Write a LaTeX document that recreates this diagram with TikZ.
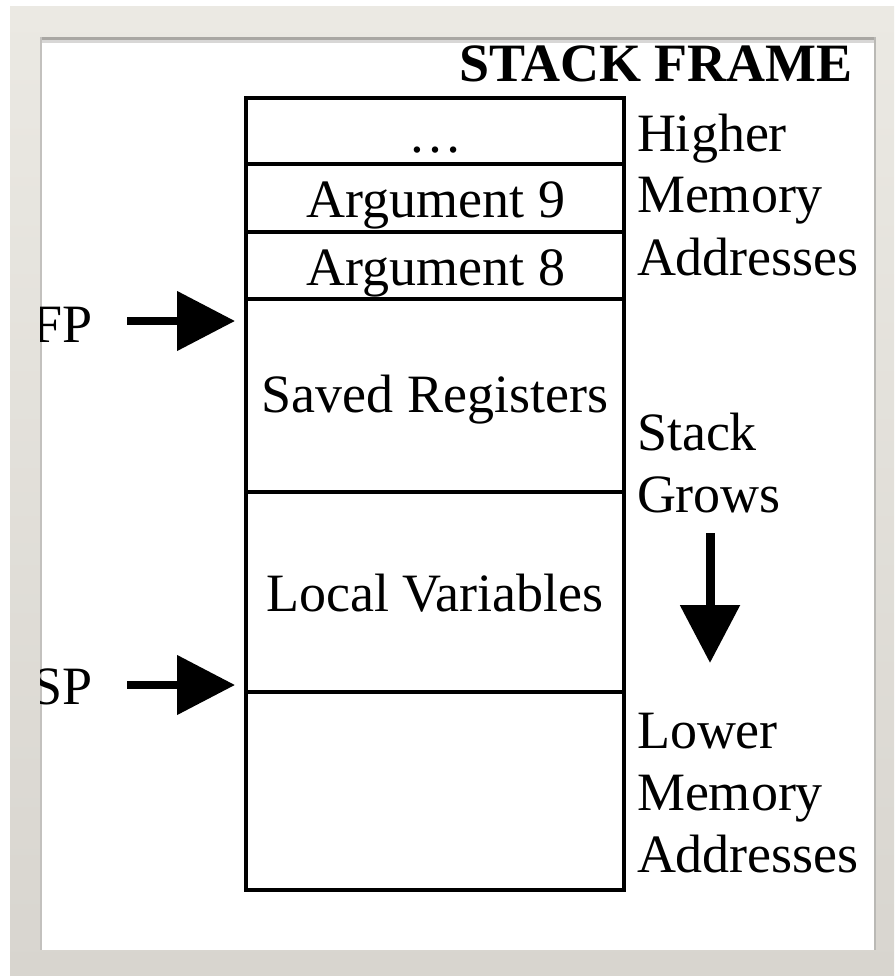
\documentclass[tikz,border=0pt]{standalone}
\usepackage{fontspec}
\setmainfont{Liberation Serif}
\usetikzlibrary{arrows.meta}
\definecolor{mattetop}{HTML}{EBE9E3}
\definecolor{mattebot}{HTML}{D8D5CF}
\definecolor{edgeshade}{HTML}{A9A7A3}
\begin{document}
\begin{tikzpicture}[x=1pt,y=-1pt,
  every node/.style={inner sep=0pt, outer sep=0pt},
  txt/.style={font=\fontsize{54}{62}\selectfont},
  cell/.style={draw=black, line width=3.5pt, minimum width=378pt, anchor=north west},
  ptr/.style={line width=8pt, -{Triangle[length=58pt,width=58pt]}},
]
% page and mat
\useasboundingbox (0,0) rectangle (894,976);
\fill[white] (0,0) rectangle (894,976);
\shade[top color=mattetop, bottom color=mattebot] (10,7) rectangle (894,976);
\fill[white] (40,37) rectangle (876,950);
% bevel shadow along the inner edges
\draw[edgeshade, line width=2.5pt] (40,38.5) -- (876,38.5);
\draw[edgeshade!45, line width=3pt] (40,42) -- (876,42);
\draw[edgeshade!70, line width=1.5pt] (41,37) -- (41,950);
\draw[edgeshade!80, line width=1.5pt] (875,37) -- (875,950);

\begin{scope}
\clip (40,37) rectangle (876,950);

% title
\node[txt, font=\fontsize{54}{62}\selectfont\bfseries, anchor=base east] (title) at (853,82) {STACK FRAME};

% stack cells
\node[cell, minimum height=66pt]  (more)   at (246,98)  {};
\node[cell, minimum height=68pt]  (arg9)   at (246,164) {};
\node[cell, minimum height=67pt]  (arg8)   at (246,232) {};
\node[cell, minimum height=193pt] (saved)  at (246,299) {};
\node[cell, minimum height=200pt] (locals) at (246,492) {};
\node[cell, minimum height=198pt] (free)   at (246,692) {};

% cell contents
\node[txt, anchor=base] (moretxt)   at (435,153) {…};
\node[txt, anchor=base] (arg9txt)   at (436,218) {Argument 9};
\node[txt, anchor=base] (arg8txt)   at (436,285) {Argument 8};
\node[txt, anchor=base] (savedtxt)  at (435,412) {Saved Registers};
\node[txt, anchor=base] (localstxt) at (435,611) {Local Variables};

% right-hand annotations
\node[txt, anchor=base west] (hi1) at (637,152) {Higher};
\node[txt, anchor=base west] (hi2) at (637,213) {Memory};
\node[txt, anchor=base west] (hi3) at (637,275) {Addresses};
\node[txt, anchor=base west] (gr1) at (637,450) {Stack};
\node[txt, anchor=base west] (gr2) at (637,512) {Grows};
\node[txt, anchor=base west] (lo1) at (637,748) {Lower};
\node[txt, anchor=base west] (lo2) at (637,810) {Memory};
\node[txt, anchor=base west] (lo3) at (637,872) {Addresses};

% growth direction
\coordinate (growtop) at (710,533);
\coordinate (growtip) at (710,663);
\draw[ptr, line width=9pt] (growtop) -- (growtip);

% frame and stack pointers
\node[txt, anchor=base east] (fp) at (93,342) {FP};
\node[txt, anchor=base east] (sp) at (93,704) {SP};
\coordinate (fpfrom) at (127,321);
\coordinate (fpto)   at (235,321);
\coordinate (spfrom) at (127,685);
\coordinate (spto)   at (235,685);
\draw[ptr] (fpfrom) -- (fpto);
\draw[ptr] (spfrom) -- (spto);
\end{scope}
\end{tikzpicture}
\end{document}
